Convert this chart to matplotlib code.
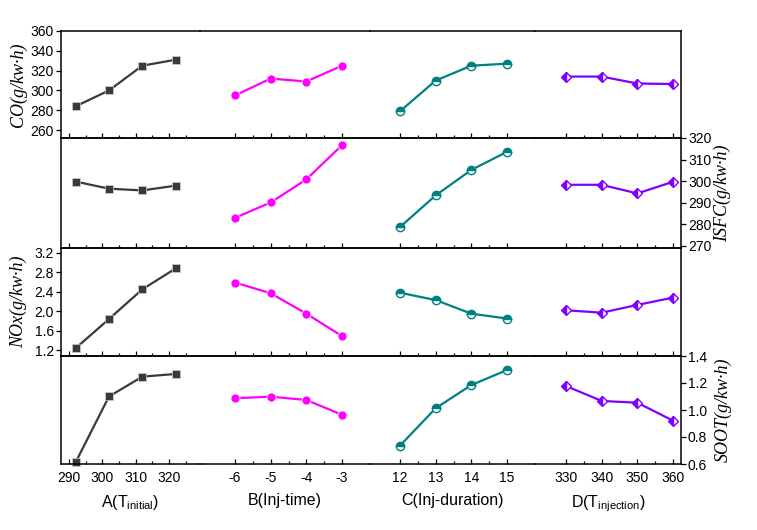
import numpy as np
import matplotlib.pyplot as plt
from matplotlib.ticker import FixedLocator, FormatStrFormatter

## factor levels (x values)
t_initial = [292, 302, 312, 322]
inj_time = [-6, -5, -4, -3]
inj_duration = [12, 13, 14, 15]
t_injection = [330, 340, 350, 360]

## responses
co_a = [284, 300, 325, 331]
co_b = [295, 312, 309, 325]
co_c = [279, 310, 325, 327]
co_d = [314, 314, 307, 306.5]

isfc_a = [299.8, 296.5, 295.7, 297.9]
isfc_b = [283, 290.1, 300.8, 316.7]
isfc_c = [278.7, 293.4, 305.2, 313.6]
isfc_d = [298.3, 298.3, 294.3, 299.7]

nox_a = [1.24, 1.84, 2.45, 2.88]
nox_b = [2.59, 2.37, 1.95, 1.49]
nox_c = [2.38, 2.23, 1.95, 1.85]
nox_d = [2.02, 1.97, 2.13, 2.28]

soot_a = [0.613, 1.10, 1.247, 1.267]
soot_b = [1.087, 1.099, 1.074, 0.965]
soot_c = [0.736, 1.013, 1.185, 1.296]
soot_d = [1.178, 1.067, 1.054, 0.921]

x_levels = [t_initial, inj_time, inj_duration, t_injection]
responses = [[co_a, co_b, co_c, co_d],
             [isfc_a, isfc_b, isfc_c, isfc_d],
             [nox_a, nox_b, nox_c, nox_d],
             [soot_a, soot_b, soot_c, soot_d]]

x_names = [r'A(T$_\mathregular{initial}$)', 'B(Inj-time)', 'C(Inj-duration)',
           r'D(T$_\mathregular{injection}$)']
x_major = [[290, 300, 310, 320], [-6, -5, -4, -3], [12, 13, 14, 15], [330, 340, 350, 360]]
x_minor = [[295, 305, 315, 325], [-5.5, -4.5, -3.5], [12.5, 13.5, 14.5], [335, 345, 355]]

y_names = ['CO(g/kw·h)', 'ISFC(g/kw·h)', 'NOx(g/kw·h)', 'SOOT(g/kw·h)']
y_ticks = [[260, 280, 300, 320, 340, 360],
           [270, 280, 290, 300, 310, 320],
           [1.2, 1.6, 2.0, 2.4, 2.8, 3.2],
           [0.6, 0.8, 1.0, 1.2, 1.4]]
y_lims = [(252, 360), (269, 320), (1.08, 3.3), (0.6, 1.4)]
y_side = ['left', 'right', 'left', 'right']

## layout (pixels)
W, H = 757, 530
col_edges = [61, 200, 370, 535, 681]
row_edges = [31, 138, 248, 356, 464]
# (tick value, pixel of that tick, pixels per unit) for each column
col_scale = [(290, 69, 3.333), (-6, 235, 35.67), (12, 400, 35.67), (330, 566, 3.567)]

styles = [
    dict(color='#3a3a3a', marker='s', markersize=5.5, markeredgecolor='#d0d0d0',
         markeredgewidth=0.5),
    dict(color='#ff00ff', marker='o', markersize=6.5, markeredgecolor='white',
         markeredgewidth=0.5),
    dict(color='#008080', marker='o', markersize=6, fillstyle='top',
         markerfacecoloralt='white', markeredgecolor='#008080', markeredgewidth=1.0),
    dict(color='#8000ff', marker='D', markersize=5.5, fillstyle='left',
         markerfacecoloralt='white', markeredgecolor='#8000ff', markeredgewidth=1.0),
]

plt.rcParams['font.family'] = ['Liberation Sans', 'DejaVu Sans']
plt.rcParams['axes.unicode_minus'] = False
fig = plt.figure(figsize=(W / 100, H / 100), dpi=100)

for r in range(4):
    for c in range(4):
        x0, x1 = col_edges[c], col_edges[c + 1]
        y0, y1 = row_edges[r], row_edges[r + 1]
        ax = fig.add_axes([x0 / W, 1 - y1 / H, (x1 - x0) / W, (y1 - y0) / H])
        ax.set_facecolor('none')

        ax.plot(x_levels[c], responses[r][c], linewidth=1.6, clip_on=False, **styles[c])

        v, p, s = col_scale[c]
        ax.set_xlim(v - (p - x0) / s, v + (x1 - p) / s)
        ax.set_ylim(*y_lims[r])

        for side in ['top', 'bottom', 'left', 'right']:
            ax.spines[side].set_linewidth(1.1)
        ax.spines['left'].set_visible(c == 0)
        ax.spines['right'].set_visible(c == 3)

        ax.xaxis.set_major_locator(FixedLocator(x_major[c]))
        ax.xaxis.set_minor_locator(FixedLocator(x_minor[c]))
        ax.tick_params(axis='x', which='major', direction='in', length=3.5, width=0.9,
                       top=False, labelbottom=(r == 3), labelsize=10, pad=5)
        ax.tick_params(axis='x', which='minor', direction='in', length=2.5, width=0.9,
                       top=False)
        if r == 3:
            ax.set_xlabel(x_names[c], fontsize=11.5, labelpad=6)

        own = (y_side[r] == 'left' and c == 0) or (y_side[r] == 'right' and c == 3)
        if own:
            ax.yaxis.set_major_locator(FixedLocator(y_ticks[r]))
            if r >= 2:
                ax.yaxis.set_major_formatter(FormatStrFormatter('%.1f'))
            if y_side[r] == 'right':
                ax.yaxis.tick_right()
                ax.yaxis.set_label_position('right')
            ax.tick_params(axis='y', direction='out', length=3.5, width=0.9,
                           labelsize=10, pad=1.5)
            ax.set_ylabel(y_names[r], fontsize=13, family='Liberation Serif',
                          style='italic')
            if y_side[r] == 'left':
                ax.yaxis.set_label_coords((27 - x0) / (x1 - x0), 0.5)
            else:
                ax.yaxis.set_label_coords((714 - x0) / (x1 - x0), 0.5)
        else:
            ax.tick_params(axis='y', left=False, right=False,
                           labelleft=False, labelright=False)

fig.savefig('out.png', dpi=100)
